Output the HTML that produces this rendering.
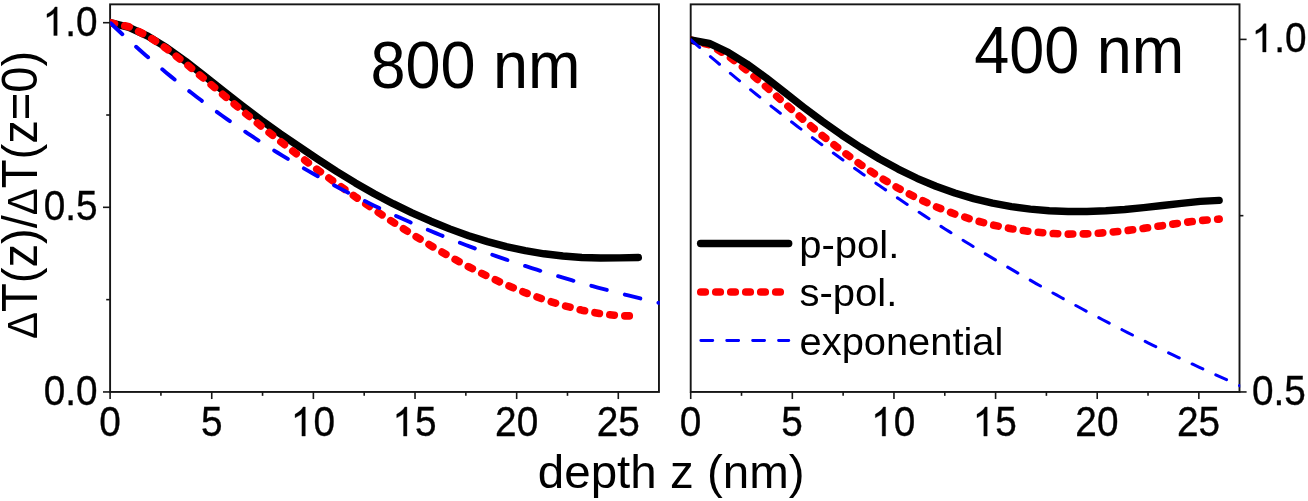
<!DOCTYPE html>
<html><head><meta charset="utf-8"><title>chart</title>
<style>html,body{margin:0;padding:0;background:#fff;}body{width:1308px;height:501px;position:relative;overflow:hidden;font-family:"Liberation Sans",sans-serif;}</style>
</head><body>
<svg width="1308" height="501" viewBox="0 0 1308 501" style="position:absolute;left:0;top:0;will-change:transform">
<defs><clipPath id="cl"><rect x="110.10" y="4.35" width="549.55" height="387.60"/></clipPath><clipPath id="cr"><rect x="690.70" y="4.35" width="549.50" height="387.60"/></clipPath></defs>
<g stroke="#161616" stroke-width="1.9" fill="none">
<rect x="110.10" y="4.35" width="548.85" height="387.60"/>
<rect x="690.70" y="4.35" width="548.80" height="387.60"/>
</g><g stroke="#161616" stroke-width="1.6" fill="none">
<path d="M110.10 391.95v7.10"/>
<path d="M690.70 391.95v7.10"/>
<path d="M211.74 391.95v7.10"/>
<path d="M792.33 391.95v7.10"/>
<path d="M313.38 391.95v7.10"/>
<path d="M893.96 391.95v7.10"/>
<path d="M415.02 391.95v7.10"/>
<path d="M995.59 391.95v7.10"/>
<path d="M516.66 391.95v7.10"/>
<path d="M1097.22 391.95v7.10"/>
<path d="M618.29 391.95v7.10"/>
<path d="M1198.85 391.95v7.10"/>
<path d="M160.92 391.95v3.90"/>
<path d="M741.51 391.95v3.90"/>
<path d="M262.56 391.95v3.90"/>
<path d="M843.14 391.95v3.90"/>
<path d="M364.20 391.95v3.90"/>
<path d="M944.77 391.95v3.90"/>
<path d="M465.84 391.95v3.90"/>
<path d="M1046.40 391.95v3.90"/>
<path d="M567.48 391.95v3.90"/>
<path d="M1148.03 391.95v3.90"/>
<path d="M110.10 391.95h-7.10"/>
<path d="M110.10 207.32h-7.10"/>
<path d="M110.10 22.70h-7.10"/>
<path d="M110.10 299.64h-3.90"/>
<path d="M110.10 115.01h-3.90"/>
<path d="M1239.50 391.95h7.10"/>
<path d="M1239.50 39.40h7.10"/>
<path d="M1239.50 215.67h3.90"/>
</g>
<g clip-path="url(#cl)" fill="none">
<path d="M110.10 22.70 L128.97 27.31 L147.83 36.08 L166.70 47.72 L185.57 61.27 L204.44 75.85 L223.30 90.89 L242.17 105.57 L261.04 119.90 L279.90 133.55 L298.77 146.37 L317.64 159.18 L336.51 171.41 L355.37 182.92 L374.24 193.68 L393.11 203.69 L411.98 212.86 L430.84 221.24 L449.71 228.89 L468.58 235.70 L487.44 241.61 L506.31 246.62 L525.18 250.69 L544.05 253.78 L562.91 255.99 L581.78 257.45 L600.65 258.00 L619.51 257.88 L638.38 257.47" stroke="#000" stroke-width="7.4" stroke-linecap="round" stroke-linejoin="round"/>
<path d="M110.10 22.70 L128.97 26.70 L147.83 36.05 L166.70 48.76 L185.57 63.40 L204.44 78.99 L223.30 94.87 L242.17 110.64 L261.04 126.09 L279.90 141.11 L298.77 155.68 L317.64 169.81 L336.51 183.52 L355.37 196.82 L374.24 209.72 L393.11 222.19 L411.98 234.19 L430.84 245.66 L449.71 256.53 L468.58 266.74 L487.44 276.21 L506.31 284.87 L525.18 292.66 L544.05 299.53 L562.91 305.40 L581.78 310.17 L600.65 313.71 L619.51 315.77 L638.38 316.00" stroke="#f00" stroke-width="7.6" stroke-linecap="round" stroke-linejoin="round" stroke-dasharray="4.5 10.53"/>
<path d="M110.10 22.70 L115.18 27.53 L120.26 32.29 L125.34 36.99 L130.42 41.63 L135.50 46.21 L140.58 50.73 L145.66 55.19 L150.74 59.59 L155.82 63.94 L160.90 68.22 L165.98 72.46 L171.06 76.63 L176.14 80.75 L181.21 84.82 L186.29 88.84 L191.37 92.80 L196.45 96.71 L201.53 100.57 L206.61 104.38 L211.69 108.14 L216.77 111.85 L221.85 115.51 L226.93 119.12 L232.01 122.69 L237.09 126.21 L242.17 129.68 L247.25 133.11 L252.33 136.49 L257.41 139.83 L262.49 143.13 L267.57 146.38 L272.65 149.59 L277.73 152.76 L282.81 155.89 L287.89 158.97 L292.97 162.02 L298.05 165.02 L303.13 167.99 L308.21 170.92 L313.29 173.81 L318.36 176.66 L323.44 179.47 L328.52 182.25 L333.60 184.99 L338.68 187.70 L343.76 190.37 L348.84 193.00 L353.92 195.60 L359.00 198.17 L364.08 200.70 L369.16 203.20 L374.24 205.67 L379.32 208.10 L384.40 210.51 L389.48 212.88 L394.56 215.22 L399.64 217.53 L404.72 219.81 L409.80 222.06 L414.88 224.28 L419.96 226.47 L425.04 228.63 L430.12 230.77 L435.20 232.88 L440.28 234.96 L445.36 237.01 L450.44 239.03 L455.51 241.03 L460.59 243.00 L465.67 244.95 L470.75 246.87 L475.83 248.77 L480.91 250.64 L485.99 252.49 L491.07 254.31 L496.15 256.11 L501.23 257.89 L506.31 259.64 L511.39 261.37 L516.47 263.08 L521.55 264.76 L526.63 266.42 L531.71 268.06 L536.79 269.68 L541.87 271.28 L546.95 272.86 L552.03 274.41 L557.11 275.95 L562.19 277.47 L567.27 278.96 L572.35 280.44 L577.43 281.90 L582.51 283.34 L587.59 284.76 L592.66 286.16 L597.74 287.54 L602.82 288.91 L607.90 290.25 L612.98 291.58 L618.06 292.89 L623.14 294.19 L628.22 295.47 L633.30 296.73 L638.38 297.97 L643.46 299.20 L648.54 300.41 L653.62 301.61 L658.70 302.79 L663.78 303.96" stroke="#00f" stroke-width="3.9" stroke-linecap="round" stroke-dasharray="16.0 18.6" stroke-dashoffset="-0.8"/>
</g>
<g clip-path="url(#cr)" fill="none">
<path d="M690.40 40.00 L709.28 44.82 L728.17 55.94 L747.05 70.47 L765.94 86.69 L784.82 103.47 L803.71 120.02 L822.59 135.84 L841.48 150.63 L860.36 164.32 L879.24 176.91 L898.13 188.18 L917.01 198.10 L935.90 206.77 L954.78 213.96 L973.67 220.01 L992.55 224.97 L1011.43 228.81 L1030.32 231.56 L1049.20 233.33 L1068.09 234.09 L1086.97 233.86 L1105.86 232.73 L1124.74 230.84 L1143.63 228.39 L1162.51 225.63 L1181.39 222.89 L1200.28 220.57 L1219.16 219.12" stroke="#f00" stroke-width="7.6" stroke-linecap="round" stroke-linejoin="round" stroke-dasharray="4.5 10.53" stroke-dashoffset="0.7"/>
<path d="M690.40 40.00 L709.28 43.41 L728.17 52.27 L747.05 64.12 L765.94 77.78 L784.82 92.51 L803.71 107.29 L822.59 121.47 L841.48 134.83 L860.36 147.28 L879.24 158.77 L898.13 169.11 L917.01 178.29 L935.90 186.26 L954.78 193.05 L973.67 198.67 L992.55 203.19 L1011.43 206.68 L1030.32 209.18 L1049.20 210.74 L1068.09 211.51 L1086.97 211.52 L1105.86 210.80 L1124.74 209.46 L1143.63 207.63 L1162.51 205.48 L1181.39 203.33 L1200.28 201.40 L1219.16 200.36" stroke="#000" stroke-width="7.4" stroke-linecap="round" stroke-linejoin="round"/>
<path d="M690.40 39.50 L695.48 43.89 L700.57 48.26 L705.65 52.59 L710.74 56.90 L715.82 61.19 L720.91 65.44 L725.99 69.67 L731.07 73.88 L736.16 78.06 L741.24 82.21 L746.33 86.33 L751.41 90.43 L756.50 94.51 L761.58 98.56 L766.66 102.58 L771.75 106.58 L776.83 110.55 L781.92 114.50 L787.00 118.43 L792.09 122.33 L797.17 126.20 L802.25 130.06 L807.34 133.88 L812.42 137.69 L817.51 141.47 L822.59 145.22 L827.67 148.96 L832.76 152.67 L837.84 156.35 L842.93 160.02 L848.01 163.66 L853.10 167.28 L858.18 170.87 L863.26 174.45 L868.35 178.00 L873.43 181.53 L878.52 185.03 L883.60 188.52 L888.69 191.98 L893.77 195.42 L898.85 198.84 L903.94 202.24 L909.02 205.62 L914.11 208.98 L919.19 212.31 L924.28 215.63 L929.36 218.92 L934.44 222.20 L939.53 225.45 L944.61 228.68 L949.70 231.90 L954.78 235.09 L959.87 238.26 L964.95 241.42 L970.03 244.55 L975.12 247.67 L980.20 250.76 L985.29 253.84 L990.37 256.89 L995.46 259.93 L1000.54 262.95 L1005.62 265.95 L1010.71 268.93 L1015.79 271.89 L1020.88 274.84 L1025.96 277.76 L1031.05 280.67 L1036.13 283.56 L1041.21 286.43 L1046.30 289.28 L1051.38 292.12 L1056.47 294.94 L1061.55 297.74 L1066.64 300.52 L1071.72 303.28 L1076.80 306.03 L1081.89 308.76 L1086.97 311.48 L1092.06 314.18 L1097.14 316.86 L1102.22 319.52 L1107.31 322.17 L1112.39 324.80 L1117.48 327.41 L1122.56 330.01 L1127.65 332.59 L1132.73 335.16 L1137.81 337.71 L1142.90 340.24 L1147.98 342.76 L1153.07 345.26 L1158.15 347.75 L1163.24 350.22 L1168.32 352.68 L1173.40 355.12 L1178.49 357.54 L1183.57 359.95 L1188.66 362.35 L1193.74 364.73 L1198.83 367.09 L1203.91 369.45 L1208.99 371.78 L1214.08 374.10 L1219.16 376.41 L1224.25 378.70 L1229.33 380.98 L1234.42 383.25 L1239.50 385.50 L1244.58 387.73" stroke="#00f" stroke-width="3.05" stroke-linecap="round" stroke-dasharray="11.8 14.25" stroke-dashoffset="-0.3"/>
</g>
<g fill="none">
<path d="M700.6 243.5H788.7" stroke="#000" stroke-width="7.4" stroke-linecap="round"/>
<path d="M700.8 292H788.8" stroke="#f00" stroke-width="7.7" stroke-linecap="round" stroke-dasharray="4.48 10.51"/>
<path d="M700.85 340.5H788.8" stroke="#00f" stroke-width="2.9" stroke-linecap="round" stroke-dasharray="11.9 14.0"/>
</g>
<text transform="translate(110.10 436.10) scale(0.9620 1.0750)" font-size="40.30" text-anchor="middle" font-family="Liberation Sans, sans-serif" fill="#000" stroke="#000" stroke-width="0.35">0</text>
<text transform="translate(690.40 436.10) scale(0.9620 1.0750)" font-size="40.30" text-anchor="middle" font-family="Liberation Sans, sans-serif" fill="#000" stroke="#000" stroke-width="0.35">0</text>
<text transform="translate(211.74 436.10) scale(0.9620 1.0750)" font-size="40.30" text-anchor="middle" font-family="Liberation Sans, sans-serif" fill="#000" stroke="#000" stroke-width="0.35">5</text>
<text transform="translate(792.03 436.10) scale(0.9620 1.0750)" font-size="40.30" text-anchor="middle" font-family="Liberation Sans, sans-serif" fill="#000" stroke="#000" stroke-width="0.35">5</text>
<g transform="translate(313.38 436.10) scale(0.9620 1.0750)">
<path transform="translate(-23.41 0) scale(0.01968 -0.01840)" d="M763 0H583V1147Q518 1085 412.5 1023T223 930V1104Q374 1175 487 1276T647 1472H763Z" fill="#000" stroke="#000" stroke-width="17.8"/>
<text x="0.00" y="0" font-size="40.30" font-family="Liberation Sans, sans-serif" fill="#000" stroke="#000" stroke-width="0.35">0</text>
</g>
<g transform="translate(893.66 436.10) scale(0.9620 1.0750)">
<path transform="translate(-23.41 0) scale(0.01968 -0.01840)" d="M763 0H583V1147Q518 1085 412.5 1023T223 930V1104Q374 1175 487 1276T647 1472H763Z" fill="#000" stroke="#000" stroke-width="17.8"/>
<text x="0.00" y="0" font-size="40.30" font-family="Liberation Sans, sans-serif" fill="#000" stroke="#000" stroke-width="0.35">0</text>
</g>
<g transform="translate(415.02 436.10) scale(0.9620 1.0750)">
<path transform="translate(-23.41 0) scale(0.01968 -0.01840)" d="M763 0H583V1147Q518 1085 412.5 1023T223 930V1104Q374 1175 487 1276T647 1472H763Z" fill="#000" stroke="#000" stroke-width="17.8"/>
<text x="0.00" y="0" font-size="40.30" font-family="Liberation Sans, sans-serif" fill="#000" stroke="#000" stroke-width="0.35">5</text>
</g>
<g transform="translate(995.29 436.10) scale(0.9620 1.0750)">
<path transform="translate(-23.41 0) scale(0.01968 -0.01840)" d="M763 0H583V1147Q518 1085 412.5 1023T223 930V1104Q374 1175 487 1276T647 1472H763Z" fill="#000" stroke="#000" stroke-width="17.8"/>
<text x="0.00" y="0" font-size="40.30" font-family="Liberation Sans, sans-serif" fill="#000" stroke="#000" stroke-width="0.35">5</text>
</g>
<text transform="translate(516.66 436.10) scale(0.9620 1.0750)" font-size="40.30" text-anchor="middle" font-family="Liberation Sans, sans-serif" fill="#000" stroke="#000" stroke-width="0.35">20</text>
<text transform="translate(1096.92 436.10) scale(0.9620 1.0750)" font-size="40.30" text-anchor="middle" font-family="Liberation Sans, sans-serif" fill="#000" stroke="#000" stroke-width="0.35">20</text>
<text transform="translate(618.29 436.10) scale(0.9620 1.0750)" font-size="40.30" text-anchor="middle" font-family="Liberation Sans, sans-serif" fill="#000" stroke="#000" stroke-width="0.35">25</text>
<text transform="translate(1198.55 436.10) scale(0.9620 1.0750)" font-size="40.30" text-anchor="middle" font-family="Liberation Sans, sans-serif" fill="#000" stroke="#000" stroke-width="0.35">25</text>
<text transform="translate(97.60 404.75) scale(0.9620 1.0550)" font-size="40.30" text-anchor="end" font-family="Liberation Sans, sans-serif" fill="#000" stroke="#000" stroke-width="0.35">0.0</text>
<text transform="translate(97.60 220.12) scale(0.9620 1.0550)" font-size="40.30" text-anchor="end" font-family="Liberation Sans, sans-serif" fill="#000" stroke="#000" stroke-width="0.35">0.5</text>
<g transform="translate(97.60 35.50) scale(0.9620 1.0550)">
<path transform="translate(-57.02 0) scale(0.01968 -0.01840)" d="M763 0H583V1147Q518 1085 412.5 1023T223 930V1104Q374 1175 487 1276T647 1472H763Z" fill="#000" stroke="#000" stroke-width="17.8"/>
<text x="-33.61" y="0" font-size="40.30" font-family="Liberation Sans, sans-serif" fill="#000" stroke="#000" stroke-width="0.35">.0</text>
</g>
<text transform="translate(1252.00 405.45) scale(0.9620 1.0550)" font-size="40.30" text-anchor="start" font-family="Liberation Sans, sans-serif" fill="#000" stroke="#000" stroke-width="0.35">0.5</text>
<g transform="translate(1252.60 52.00) scale(0.9620 1.0450)">
<path transform="translate(-1.00 0) scale(0.01968 -0.01840)" d="M763 0H583V1147Q518 1085 412.5 1023T223 930V1104Q374 1175 487 1276T647 1472H763Z" fill="#000" stroke="#000" stroke-width="17.8"/>
<text x="22.41" y="0" font-size="40.30" font-family="Liberation Sans, sans-serif" fill="#000" stroke="#000" stroke-width="0.35">.0</text>
</g>
<text transform="translate(799.25 257.50) scale(1.0000 0.9850)" font-size="40.00" text-anchor="start" font-family="Liberation Sans, sans-serif" fill="#000">p-pol.</text>
<text transform="translate(799.50 305.90) scale(1.0000 0.9850)" font-size="40.00" text-anchor="start" font-family="Liberation Sans, sans-serif" fill="#000">s-pol.</text>
<text transform="translate(799.60 354.70) scale(0.9960 0.9850)" font-size="40.00" text-anchor="start" font-family="Liberation Sans, sans-serif" fill="#000">exponential</text>
<text transform="translate(370.40 87.70) scale(1.0000 1.0550)" font-size="63.00" text-anchor="start" font-family="Liberation Sans, sans-serif" fill="#000">800 nm</text>
<text transform="translate(974.20 72.70) scale(1.0000 1.0600)" font-size="63.00" text-anchor="start" font-family="Liberation Sans, sans-serif" fill="#000">400 nm</text>
<text transform="translate(671.20 488.30) scale(1.0050 0.9600)" font-size="47.30" text-anchor="middle" font-family="Liberation Sans, sans-serif" fill="#000">depth z (nm)</text>
<text transform="translate(36.5 194.9) rotate(-90) scale(0.9955 1.045)" font-size="47.3" text-anchor="middle" font-family="Liberation Sans, sans-serif" fill="#000"><tspan font-size="40.7">Δ</tspan>T(z)/<tspan font-size="40.7">Δ</tspan>T(z=0)</text>
</svg>
</body></html>
